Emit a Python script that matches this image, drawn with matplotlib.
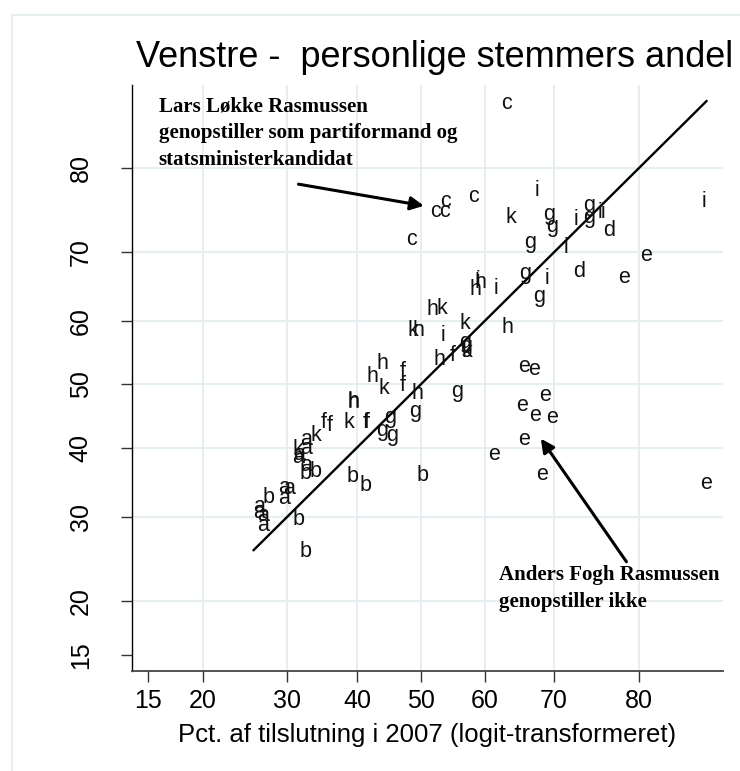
import numpy as np
import matplotlib
matplotlib.use("Agg")
import matplotlib.pyplot as plt
from matplotlib.patches import Rectangle
from matplotlib.ticker import FixedLocator, FixedFormatter, NullLocator

plt.rcParams['font.family'] = ['Liberation Sans', 'DejaVu Sans']

# letter = storkreds, x = pct. of the vote in 2007, y = personal votes' share (pct.)
labels = ["c", "i", "i", "c", "c", "c", "c", "k", "g", "g",
          "i", "g", "g", "i", "i", "d", "c", "g", "i", "e",
          "g", "i", "d", "e", "h", "h", "i", "i", "g", "h",
          "k", "k", "h", "i", "k", "h", "g", "g", "k", "h",
          "f", "e", "e", "h", "h", "f", "k", "f", "g", "h",
          "e", "h", "h", "e", "g", "g", "e", "e", "f", "f",
          "k", "f", "f", "g", "g", "a", "k", "e", "k", "a",
          "a", "a", "e", "a", "b", "b", "e", "b", "b", "e",
          "b", "a", "a", "b", "a", "a", "a", "a", "a", "b",
          "b"]
pct_2007 = [63.3, 85.8, 67.6, 52.3, 53.8, 53.9, 58.3, 63.9, 69.3, 69.7,
            72.9, 74.4, 74.4, 75.8, 76.1, 76.8, 48.5, 66.7, 71.6, 80.7,
            66.0, 69.1, 73.2, 78.4, 58.6, 59.3, 59.0, 61.8, 68.0, 51.8,
            53.3, 48.8, 49.7, 53.6, 56.9, 63.4, 57.0, 57.2, 57.3, 53.0,
            55.1, 65.8, 67.2, 43.9, 42.4, 47.2, 44.1, 47.1, 55.8, 49.4,
            68.8, 39.4, 39.5, 65.6, 49.1, 45.2, 67.4, 69.7, 35.1, 35.9,
            38.8, 41.3, 41.5, 43.9, 45.5, 32.5, 34.0, 65.8, 31.4, 32.5,
            31.4, 31.6, 61.4, 32.6, 32.5, 33.9, 68.4, 50.3, 39.4, 86.0,
            41.3, 29.5, 30.2, 27.6, 29.5, 26.4, 26.4, 26.9, 26.9, 31.5,
            32.5]
pct_personal = [85.8, 76.4, 77.6, 75.2, 75.2, 76.4, 76.9, 74.5, 74.8, 73.4,
                74.2, 75.9, 74.5, 75.1, 75.1, 72.8, 71.7, 71.3, 70.6, 69.6,
                67.0, 66.4, 67.3, 66.5, 64.7, 65.7, 66.0, 64.9, 63.7, 61.8,
                61.9, 58.6, 58.6, 57.8, 59.6, 59.0, 56.6, 56.1, 55.2, 54.0,
                54.6, 52.8, 52.4, 53.4, 51.2, 52.1, 49.3, 49.9, 48.9, 48.6,
                48.3, 47.2, 47.1, 46.7, 45.7, 44.8, 45.0, 44.7, 44.0, 43.5,
                44.0, 44.0, 43.9, 42.7, 41.9, 41.2, 41.9, 41.2, 39.8, 39.9,
                38.5, 39.0, 38.9, 37.3, 36.1, 36.4, 36.0, 35.8, 35.6, 34.6,
                34.4, 34.1, 33.9, 32.7, 32.5, 31.4, 30.6, 30.2, 28.8, 29.6,
                25.5]

# 45-degree reference line (x = y) over the range of the 2007 vote
ref_range = [25.7, 86.0]

tick_vals = [15, 20, 30, 40, 50, 60, 70, 80]
grid_vals = [20, 30, 40, 50, 60, 70, 80]
axis_range = [13.75, 87.2]

note_lars = "Lars Løkke Rasmussen\ngenopstiller som partiformand og\nstatsministerkandidat"
note_anders = "Anders Fogh Rasmussen\ngenopstiller ikke"
# (x, y) in pct: text anchor (baseline of last line), arrow tail, arrow tip
lars_text = (15.9, 80.3)
lars_tail = (31.5, 78.3)
lars_tip = (50.5, 75.85)
anders_text = (62.2, 19.35)
anders_tail = (78.7, 24.3)
anders_tip = (68.2, 41.4)

fig = plt.figure(figsize=(7.4, 7.71), dpi=100)
ax = fig.add_axes([0.178, 0.1297, 0.7987, 0.7601])

# stata-ish graph region outline
fig.patches.append(Rectangle((11.7 / 740, -0.1), 1.2, 1.1 - 15 / 771,
                             transform=fig.transFigure, fill=False,
                             edgecolor="#e4ecee", lw=1.2))

ax.set_xscale("logit")
ax.set_yscale("logit")
ax.set_xlim(axis_range[0] / 100, axis_range[1] / 100)
ax.set_ylim(axis_range[0] / 100, axis_range[1] / 100)

for v in grid_vals:
    ax.axvline(v / 100, color="#e6eef0", lw=1.5, zorder=0)
    ax.axhline(v / 100, color="#e6eef0", lw=1.5, zorder=0)

ticks = [t / 100 for t in tick_vals]
tick_text = [str(t) for t in tick_vals]
for axis in (ax.xaxis, ax.yaxis):
    axis.set_major_locator(FixedLocator(ticks))
    axis.set_major_formatter(FixedFormatter(tick_text))
    axis.set_minor_locator(NullLocator())

ax.tick_params(axis="x", length=8, width=1, color="#333333", pad=5, labelsize=18)
ax.tick_params(axis="y", length=8, width=1, color="#333333", pad=20, labelsize=18)
for lab in ax.get_yticklabels():
    lab.set_rotation(90)
    lab.set_va("center")

ax.spines["top"].set_visible(False)
ax.spines["right"].set_visible(False)
ax.spines["left"].set_linewidth(1.0)
ax.spines["bottom"].set_linewidth(1.3)
ax.spines["bottom"].set_color("#444444")
ax.set_facecolor("none")

for lab, xv, yv in zip(labels, pct_2007, pct_personal):
    ax.text(xv / 100, yv / 100, lab, ha="center", va="center", fontsize=15.5,
            color="#111111")

ref = np.array(ref_range) / 100
ax.plot(ref, ref, color="black", lw=1.7)

arrow = dict(arrowstyle="-|>", color="black", lw=2.2, mutation_scale=20,
             shrinkA=0, shrinkB=0)
ax.annotate("", xy=(lars_tip[0] / 100, lars_tip[1] / 100),
            xytext=(lars_tail[0] / 100, lars_tail[1] / 100), arrowprops=arrow)
ax.annotate("", xy=(anders_tip[0] / 100, anders_tip[1] / 100),
            xytext=(anders_tail[0] / 100, anders_tail[1] / 100), arrowprops=arrow)

serif = ["Liberation Serif", "DejaVu Serif"]
ax.text(lars_text[0] / 100, lars_text[1] / 100, note_lars, family=serif,
        fontweight="bold", fontsize=15, ha="left", va="baseline", linespacing=1.45)
ax.text(anders_text[0] / 100, anders_text[1] / 100, note_anders, family=serif,
        fontweight="bold", fontsize=15, ha="left", va="baseline", linespacing=1.45)

fig.text(435 / 740, 1 - 66.7 / 771, "Venstre -  personlige stemmers andel",
         ha="center", va="baseline", fontsize=26)
fig.text(426.6 / 740, 1 - 741.7 / 771, "Pct. af tilslutning i 2007 (logit-transformeret)",
         ha="center", va="baseline", fontsize=18.5)

fig.savefig("out.png", dpi=100)
